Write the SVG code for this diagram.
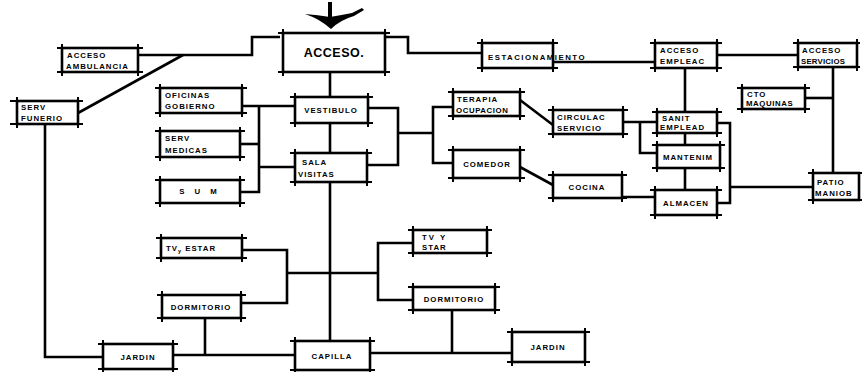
<svg xmlns="http://www.w3.org/2000/svg" width="862" height="372" viewBox="0 0 862 372">
<style>
.bx{fill:#fff;stroke:#000;stroke-width:2.6}
.tk{fill:none;stroke:#000;stroke-width:2}
.cn{fill:none;stroke:#000;stroke-width:2.6;stroke-linejoin:miter}
text{font-family:"Liberation Sans",Arial,sans-serif;font-weight:bold;font-size:7.8px;letter-spacing:1px;fill:#000}
.big{font-size:12.5px;letter-spacing:0.5px}
.c{text-anchor:middle}
</style>
<rect width="862" height="372" fill="#fff"/>

<g id="arrow">
<rect x="328" y="2" width="4" height="18" fill="#000"/>
<path d="M305,14 Q318,15 330,17 Q342,15 352,13 L362,8 L364,10 L354,16 Q340,20 331,29 Q320,19 305,14 Z" fill="#000"/>
</g>

<g id="connectors">
<path class="cn" d="M138,55 H252 V37 H280"/>
<path class="cn" d="M78,113 L183,55"/>
<path class="cn" d="M45,124 V357 H103"/>
<path class="cn" d="M385,37 H408 V53 H482"/>
<path class="cn" d="M553,62 H655"/>
<path class="cn" d="M717,55 H798"/>
<path class="cn" d="M330,72 V97"/>
<path class="cn" d="M330,123 V153"/>
<path class="cn" d="M330,182 V340"/>
<path class="cn" d="M242,106 H295"/>
<path class="cn" d="M240,144 H259"/>
<path class="cn" d="M240,192 H259 V106"/>
<path class="cn" d="M259,167 H295"/>
<path class="cn" d="M368,108 H398 V165 H367"/>
<path class="cn" d="M398,133 H433"/>
<path class="cn" d="M453,107 H433 V163 H453"/>
<path class="cn" d="M520,100 L553,125"/>
<path class="cn" d="M520,167 L553,185"/>
<path class="cn" d="M685,68 V112"/>
<path class="cn" d="M685,133 V145"/>
<path class="cn" d="M685,168 V190"/>
<path class="cn" d="M623,122 H657"/>
<path class="cn" d="M640,122 V153 H657"/>
<path class="cn" d="M717,123 H730 V203 H717"/>
<path class="cn" d="M730,187 H813"/>
<path class="cn" d="M622,197 H655"/>
<path class="cn" d="M833,67 V173"/>
<path class="cn" d="M805,98 H833"/>
<path class="cn" d="M242,250 H287 V303 H242"/>
<path class="cn" d="M287,273 H378"/>
<path class="cn" d="M413,243 H378 V300 H413"/>
<path class="cn" d="M452,310 V353"/>
<path class="cn" d="M370,353 H512"/>
<path class="cn" d="M205,318 V355"/>
<path class="cn" d="M173,355 H295"/>
</g>

<g id="acceso">
<rect class="bx" x="283" y="33" width="102" height="39"/>
<path class="tk" d="M278,33 H390 M278,72 H390 M283,29 V76 M385,29 V76"/>
<text class="big c" x="334" y="57">ACCESO.</text>
</g>
<g id="acceso-ambulancia">
<rect class="bx" x="62" y="48" width="76" height="24"/>
<path class="tk" d="M57,48 H143 M57,72 H143 M62,44 V76 M138,44 V76"/>
<text x="67" y="58">ACCESO</text>
<text x="66" y="69">AMBULANCIA</text>
</g>
<g id="serv-funerio">
<rect class="bx" x="17" y="101" width="61" height="23"/>
<path class="tk" d="M10,101 H83 M10,124 H83 M17,97 V128 M78,97 V128"/>
<text x="21" y="110">SERV</text>
<text x="21" y="121">FUNERIO</text>
</g>
<g id="oficinas-gobierno">
<rect class="bx" x="160" y="88" width="82" height="25"/>
<path class="tk" d="M155,88 H247 M155,113 H247 M160,84 V117 M242,84 V117"/>
<text x="165" y="98">OFICINAS</text>
<text x="165" y="109">GOBIERNO</text>
</g>
<g id="serv-medicas">
<rect class="bx" x="160" y="131" width="80" height="26"/>
<path class="tk" d="M155,131 H245 M155,157 H245 M160,127 V161 M240,127 V161"/>
<text x="165" y="141">SERV</text>
<text x="165" y="153">MEDICAS</text>
</g>
<g id="sum">
<rect class="bx" x="160" y="180" width="80" height="23"/>
<path class="tk" d="M155,180 H245 M155,203 H245 M160,176 V207 M240,176 V207"/>
<text class="c" x="200" y="194" style="letter-spacing:4px">S U M</text>
</g>
<g id="vestibulo">
<rect class="bx" x="295" y="97" width="73" height="26"/>
<path class="tk" d="M290,97 H373 M290,123 H373 M295,93 V127 M368,93 V127"/>
<text class="c" x="331" y="113">VESTIBULO</text>
</g>
<g id="sala-visitas">
<rect class="bx" x="295" y="153" width="72" height="29"/>
<path class="tk" d="M290,153 H372 M290,182 H372 M295,149 V186 M367,149 V186"/>
<text x="302" y="165">SALA</text>
<text x="298" y="177">VISITAS</text>
</g>
<g id="terapia-ocupacion">
<rect class="bx" x="453" y="92" width="67" height="24"/>
<path class="tk" d="M448,92 H525 M448,116 H525 M453,88 V120 M520,88 V120"/>
<text x="457" y="102">TERAPIA</text>
<text x="456" y="113" style="letter-spacing:0.6px">OCUPACION</text>
</g>
<g id="comedor">
<rect class="bx" x="453" y="150" width="67" height="28"/>
<path class="tk" d="M448,150 H525 M448,178 H525 M453,146 V182 M520,146 V182"/>
<text class="c" x="487" y="167">COMEDOR</text>
</g>
<g id="circulac-servicio">
<rect class="bx" x="553" y="110" width="70" height="24"/>
<path class="tk" d="M548,110 H628 M548,134 H628 M553,106 V138 M623,106 V138"/>
<text x="557" y="120">CIRCULAC</text>
<text x="557" y="131">SERVICIO</text>
</g>
<g id="cocina">
<rect class="bx" x="553" y="175" width="69" height="23"/>
<path class="tk" d="M548,175 H627 M548,198 H627 M553,171 V202 M622,171 V202"/>
<text class="c" x="587" y="190">COCINA</text>
</g>
<g id="estacionamiento">
<rect class="bx" x="482" y="43" width="71" height="25"/>
<path class="tk" d="M477,43 H558 M477,68 H558 M482,39 V72 M553,39 V72"/>
<text x="488" y="60" style="letter-spacing:1.5px">ESTACIONAMIENTO</text>
</g>
<g id="acceso-empleac">
<rect class="bx" x="655" y="43" width="62" height="25"/>
<path class="tk" d="M650,43 H722 M650,68 H722 M655,39 V72 M717,39 V72"/>
<text x="660" y="53">ACCESO</text>
<text x="660" y="64">EMPLEAC</text>
</g>
<g id="acceso-servicios">
<rect class="bx" x="798" y="43" width="59" height="24"/>
<path class="tk" d="M793,43 H860 M793,67 H860 M798,39 V71 M857,39 V71"/>
<text x="802" y="53">ACCESO</text>
<text x="801" y="64" style="letter-spacing:0.2px">SERVICIOS</text>
</g>
<g id="cto-maquinas">
<rect class="bx" x="742" y="88" width="63" height="21"/>
<path class="tk" d="M737,88 H810 M737,109 H810 M742,84 V113 M805,84 V113"/>
<text x="747" y="97">CTO</text>
<text x="746" y="106" style="letter-spacing:0.6px">MAQUINAS</text>
</g>
<g id="sanit-empleado">
<rect class="bx" x="657" y="112" width="60" height="21"/>
<path class="tk" d="M652,112 H722 M652,133 H722 M657,108 V137 M717,108 V137"/>
<text x="662" y="121">SANIT</text>
<text x="660" y="130">EMPLEAD</text>
</g>
<g id="mantenim">
<rect class="bx" x="657" y="145" width="63" height="23"/>
<path class="tk" d="M652,145 H725 M652,168 H725 M657,141 V172 M720,141 V172"/>
<text class="c" x="688" y="160">MANTENIM</text>
</g>
<g id="almacen">
<rect class="bx" x="655" y="190" width="62" height="25"/>
<path class="tk" d="M650,190 H722 M650,215 H722 M655,186 V219 M717,186 V219"/>
<text class="c" x="686" y="206">ALMACEN</text>
</g>
<g id="patio-maniob">
<rect class="bx" x="813" y="173" width="46" height="27"/>
<path class="tk" d="M808,173 H862 M808,200 H862 M813,169 V204"/>
<text x="817" y="185">PATIO</text>
<text x="815" y="196">MANIOB</text>
</g>
<g id="tv-estar-1">
<rect class="bx" x="161" y="238" width="81" height="20"/>
<path class="tk" d="M156,238 H247 M156,258 H247 M161,234 V262 M242,234 V262"/>
<text x="166" y="251">TV<tspan font-size="5.5" dy="2">y</tspan><tspan dy="-2"> ESTAR</tspan></text>
</g>
<g id="dormitorio-1">
<rect class="bx" x="162" y="295" width="79" height="23"/>
<path class="tk" d="M157,295 H246 M157,318 H246 M162,291 V322 M241,291 V322"/>
<text class="c" x="201" y="310">DORMITORIO</text>
</g>
<g id="tv-star-2">
<rect class="bx" x="413" y="230" width="74" height="23"/>
<path class="tk" d="M408,230 H492 M408,253 H492 M413,226 V257 M487,226 V257"/>
<text x="422" y="240" style="letter-spacing:2px">TV  Y</text>
<text x="422" y="250">STAR</text>
</g>
<g id="dormitorio-2">
<rect class="bx" x="413" y="287" width="82" height="23"/>
<path class="tk" d="M408,287 H500 M408,310 H500 M413,283 V314 M495,283 V314"/>
<text class="c" x="454" y="302">DORMITORIO</text>
</g>
<g id="jardin-1">
<rect class="bx" x="103" y="344" width="70" height="25"/>
<path class="tk" d="M98,344 H178 M98,369 H178 M103,340 V372 M173,340 V372"/>
<text class="c" x="138" y="360">JARDIN</text>
</g>
<g id="capilla">
<rect class="bx" x="295" y="341" width="75" height="29"/>
<path class="tk" d="M290,341 H375 M290,370 H375 M295,337 V372 M370,337 V372"/>
<text class="c" x="332" y="359">CAPILLA</text>
</g>
<g id="jardin-2">
<rect class="bx" x="512" y="332" width="73" height="30"/>
<path class="tk" d="M507,332 H590 M507,362 H590 M512,328 V366 M585,328 V366"/>
<text class="c" x="548" y="350">JARDIN</text>
</g>
</svg>
